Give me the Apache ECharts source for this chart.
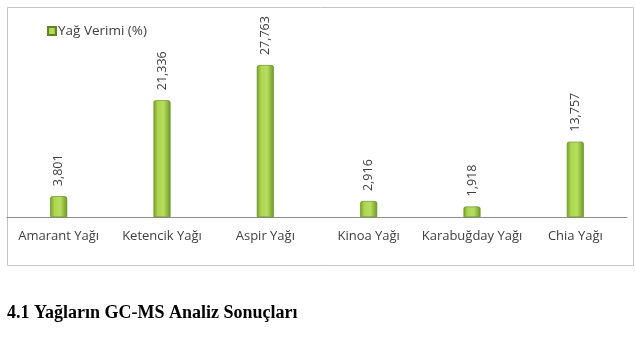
<!DOCTYPE html>
<html>
<head>
<meta charset="utf-8">
<script src="https://cdn.jsdelivr.net/npm/echarts@6/dist/echarts.min.js"></script>
<style>
  html, body { margin: 0; padding: 0; background: #fff; }
  #main { width: 635px; height: 341px; }
</style>
</head>
<body>
<div id="main"></div>
<script>
  // veriler
  const categories = ['Amarant Yağı', 'Ketencik Yağı', 'Aspir Yağı', 'Kinoa Yağı', 'Karabuğday Yağı', 'Chia Yağı']
  const yieldValues = [3.801, 21.336, 27.763, 2.916, 1.918, 13.757]
  const seriesName = 'Yağ Verimi (%)'
  const headingText = '4.1 Yağların GC-MS Analiz Sonuçları'

  const chart = echarts.init(document.getElementById('main'), null, { renderer: 'canvas' })

  // yeşil çubuk rengi (yan kenarlar koyu, orta açık)
  const barColor = new echarts.graphic.LinearGradient(0, 0, 1, 0, [
    { offset: 0, color: '#74a024' },
    { offset: 0.25, color: '#add651' },
    { offset: 0.6, color: '#b8de60' },
    { offset: 1, color: '#6e9822' }
  ])

  chart.setOption({
    animation: false,
    textStyle: { fontFamily: 'Open Sans' },
    legend: {
      data: [{ name: seriesName, icon: 'rect' }],
      left: 42,
      top: 19,
      itemWidth: 8,
      itemHeight: 8,
      itemGap: 4,
      textStyle: { fontSize: 13.5, color: '#404040', fontFamily: 'Open Sans', padding: [0, 0, 0, -3] }
    },
    grid: {
      left: 7,
      right: 8,
      top: 20,
      bottom: 124
    },
    xAxis: {
      type: 'category',
      data: categories,
      axisLine: { lineStyle: { color: '#8c8c8c', width: 1 } },
      axisTick: { show: false },
      axisLabel: { color: '#404040', fontSize: 13, margin: 13, interval: 0 }
    },
    yAxis: {
      type: 'value',
      min: 0,
      max: 36,
      show: false
    },
    series: [
      {
        name: seriesName,
        type: 'bar',
        barWidth: 17,
        data: yieldValues,
        itemStyle: {
          color: barColor,
          borderColor: '#5e8320',
          borderWidth: 0.6,
          borderRadius: [2, 2, 0, 0]
        },
        label: {
          show: true,
          position: 'top',
          rotate: 90,
          distance: 10,
          align: 'left',
          verticalAlign: 'middle',
          color: '#404040',
          fontSize: 12.5,
          formatter: p => p.value.toFixed(3).replace('.', ',')
        }
      }
    ],
    graphic: [
      {
        type: 'rect',
        left: 5,
        top: 5,
        shape: { width: 626, height: 258 },
        style: { fill: 'none', stroke: '#c4c4c4', lineWidth: 1 },
        z: -1
      },
      {
        type: 'text',
        left: 7,
        top: 304,
        style: {
          text: headingText,
          font: 'bold 18px "Liberation Serif", "Times New Roman", serif',
          fill: '#000'
        }
      }
    ]
  })
</script>
</body>
</html>
